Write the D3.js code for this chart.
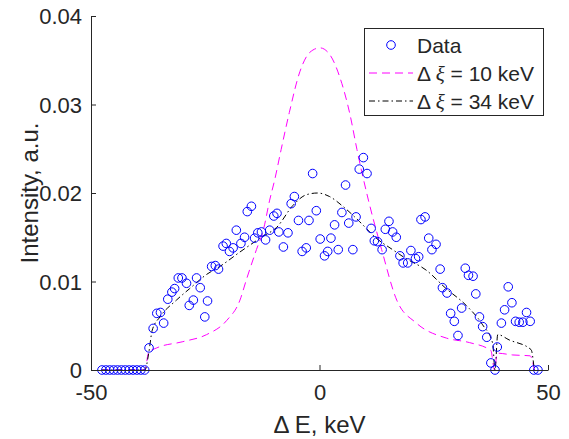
<!DOCTYPE html>
<html><head><meta charset="utf-8">
<script src="https://cdn.jsdelivr.net/npm/d3@7"></script>
<style>body{margin:0;background:#fff}svg{display:block}text{font-family:"Liberation Sans",Arial,Helvetica,sans-serif;fill:#262626}</style>
</head><body>
<script>
// Data points
const dataE = [-47.6,-46.75,-45.9,-45.05,-44.2,-43.35,-42.5,-41.65,-40.8,-39.95,-39.1,-38.25,
 -37.3,-36.4,-35.6,-34.8,-34.1,-33.2,-32.3,-31.7,-30.9,-30.1,-29.1,-28.5,-27.6,-26.9,-26.1,-25.1,-24.5,-23.6,-22.8,-22.1,
 -21.1,-20.4,-19.7,-18.9,-18.2,-17.2,-16.4,-15.8,-14.9,-14.2,-13.5,-12.7,-11.8,-10.9,-10.0,-9.3,-8.9,-7.9,-6.9,-6.2,-5.5,
 -4.6,-3.8,-2.9,-2.3,-1.5,-0.7,0.15,1.1,1.8,2.5,3.3,4.1,4.9,5.7,6.4,7.3,8.0,8.7,9.6,10.4,11.3,12.0,12.7,13.7,14.4,15.2,
 16.0,16.8,17.6,18.3,19.3,20.0,21.0,21.7,22.2,23.1,23.9,24.6,25.5,26.4,26.9,27.9,28.7,29.5,30.3,31.1,31.9,32.6,33.6,34.2,
 35.0,35.7,36.6,37.5,38.4,38.9,39.8,40.5,41.3,42.1,42.9,43.7,44.5,45.3,46.1,46.9,47.8];
const dataI = [0,0,0,0,0,0,0,0,0,0,0,0,
 0.0025,0.0047,0.0064,0.0065,0.0053,0.0080,0.0088,0.0092,0.0104,0.0104,0.0098,0.0073,0.0079,0.0104,0.0093,0.0060,0.0078,0.0117,0.0118,0.0114,
 0.0140,0.0143,0.0134,0.0138,0.0158,0.0143,0.0150,0.0179,0.0185,0.0149,0.0155,0.0156,0.0147,0.0158,0.0174,0.0177,0.0156,0.0139,0.0155,0.0188,0.0196,
 0.0169,0.0134,0.0138,0.0169,0.0222,0.0180,0.0148,0.0129,0.0134,0.0149,0.0164,0.0136,0.0178,0.0209,0.0166,0.0136,0.0173,0.0227,0.0240,0.0222,0.0160,0.0146,0.0145,0.0136,0.0159,0.0168,
 0.0156,0.0150,0.0129,0.0121,0.0121,0.0135,0.0126,0.0128,0.0170,0.0173,0.0149,0.0136,0.0142,0.0114,0.0093,0.0087,0.0064,0.0055,0.0039,0.0070,0.0115,0.0107,0.0106,0.0086,
 0.0060,0.0049,0.0037,0.0008,0.0000,0.0026,0.0053,0.0068,0.0094,0.0076,0.0055,0.0054,0.0054,0.0065,0.0055,0,0];

// Model, Δξ = 10 keV
const fit10E = [-47.6,-38.2,-37.4,-35.6,-29.9,-24.7,-20.3,-17.4,-16.0,-13.8,-12.3,-10.9,-9.8,-8.4,-6.6,-4.3,-2.1,0.1,2.3,4.5,6.7,8.2,10.7,13.6,16.9,21.2,27.8,32.8,37.5,38.3,38.9,42.3,46.1,47.0];
const fit10I = [0,0,0.0020,0.0025,0.0032,0.0040,0.0056,0.0079,0.0102,0.0136,0.0158,0.0192,0.0215,0.0249,0.0291,0.0337,0.0359,0.0364,0.0356,0.0330,0.0288,0.0249,0.0192,0.0136,0.0079,0.0053,0.0036,0.0031,0.0022,0,0.0019,0.0017,0.0016,0];

// Model, Δξ = 34 keV
const fit34E = [-47.6,-38.2,-37.4,-36.6,-34.9,-31.3,-28.4,-24.7,-21.8,-17.5,-12.4,-9.4,-5.8,-2.9,-0.4,2.2,5.1,8.7,12.4,16.0,18.9,23.3,27.7,32.1,35.7,37.9,38.4,39.0,41.5,46.3,47.0];
const fit34I = [0,0,0.0018,0.0045,0.0060,0.0079,0.0092,0.0108,0.0117,0.0133,0.0151,0.0161,0.0186,0.0198,0.0200,0.0196,0.0185,0.0168,0.0149,0.0136,0.0126,0.0113,0.0092,0.0073,0.0051,0.0030,0,0.0040,0.0034,0.0023,0];

const xTicks = [-50, 0, 50];
const xTickLabels = ["-50", "0", "50"];
const yTicks = [0, 0.01, 0.02, 0.03, 0.04];
const yTickLabels = ["0", "0.01", "0.02", "0.03", "0.04"];
const legendLabels = ["Data", "10", "34"];

const W = 569, H = 439;
const m = {left: 91, right: 21, top: 16, bottom: 69};
const svg = d3.select("body").append("svg").attr("width", W).attr("height", H);

const x = d3.scaleLinear().domain([-50, 50]).range([m.left, W - m.right]);
const y = d3.scaleLinear().domain([0, 0.04]).range([H - m.bottom, m.top]);

const axisColor = "#262626";

// lines
const line = d3.line().x(d => x(d[0])).y(d => y(d[1])).curve(d3.curveMonotoneX);
svg.append("path").datum(d3.zip(fit10E, fit10I)).attr("d", line)
  .attr("fill", "none").attr("stroke", "#ff00ff").attr("stroke-width", 1).attr("stroke-dasharray", "8,5");
svg.append("path").datum(d3.zip(fit34E, fit34I)).attr("d", line)
  .attr("fill", "none").attr("stroke", "#000").attr("stroke-width", 1).attr("stroke-dasharray", "6,3,1.5,3");

// points
svg.append("g").selectAll("circle").data(d3.zip(dataE, dataI)).join("circle")
  .attr("cx", d => x(d[0])).attr("cy", d => y(d[1])).attr("r", 4.3)
  .attr("fill", "none").attr("stroke", "#0000ff").attr("stroke-width", 1);

// axes
const xAxis = svg.append("g").attr("transform", `translate(0,${y(0)})`)
  .call(d3.axisBottom(x).tickValues(xTicks).tickSizeInner(-5).tickSizeOuter(0)
    .tickFormat((d, i) => xTickLabels[i]));
const yAxis = svg.append("g").attr("transform", `translate(${x(-50)},0)`)
  .call(d3.axisLeft(y).tickValues(yTicks).tickSizeInner(-5).tickSizeOuter(0)
    .tickFormat((d, i) => yTickLabels[i]));
[xAxis, yAxis].forEach(g => {
  g.select(".domain").attr("stroke", axisColor);
  g.selectAll(".tick line").attr("stroke", axisColor);
  g.selectAll(".tick text").attr("fill", axisColor).style("font-size", "22px").attr("font-family", null);
});
xAxis.selectAll(".tick text").attr("y", 14).attr("dy", "0.71em");
yAxis.selectAll(".tick text").attr("x", -9).attr("dy", "0.36em");

// axis labels
svg.append("text").attr("x", (x(-50) + x(50)) / 2).attr("y", 433)
  .attr("text-anchor", "middle").style("font-size", "24px").text("Δ E, keV");
svg.append("text").attr("transform", `translate(38,${(y(0) + y(0.04)) / 2}) rotate(-90)`)
  .attr("text-anchor", "middle").style("font-size", "24px").text("Intensity, a.u.");

// legend
const lg = svg.append("g");
lg.append("rect").attr("x", 364.5).attr("y", 28.5).attr("width", 179).attr("height", 87)
  .attr("fill", "#fff").attr("stroke", axisColor).attr("stroke-width", 1);
const rows = [45, 73, 101];
lg.append("circle").attr("cx", 391).attr("cy", rows[0]).attr("r", 4.3)
  .attr("fill", "none").attr("stroke", "#0000ff");
lg.append("line").attr("x1", 369).attr("x2", 413).attr("y1", rows[1]).attr("y2", rows[1])
  .attr("stroke", "#ff00ff").attr("stroke-dasharray", "8,5");
lg.append("line").attr("x1", 369).attr("x2", 413).attr("y1", rows[2]).attr("y2", rows[2])
  .attr("stroke", "#000").attr("stroke-dasharray", "6,3,1.5,3");
legendLabels.forEach((lab, i) => {
  const t = lg.append("text").attr("x", 417).attr("y", rows[i]).attr("dy", "0.36em").style("font-size", "21px");
  if (i === 0) { t.text(lab); }
  else {
    t.append("tspan").text("Δ ");
    t.append("tspan").style("font-style", "italic").style("font-family", "'Liberation Serif','DejaVu Serif',serif").text("ξ");
    t.append("tspan").text(" = " + lab + " keV");
  }
});
</script>
</body></html>
